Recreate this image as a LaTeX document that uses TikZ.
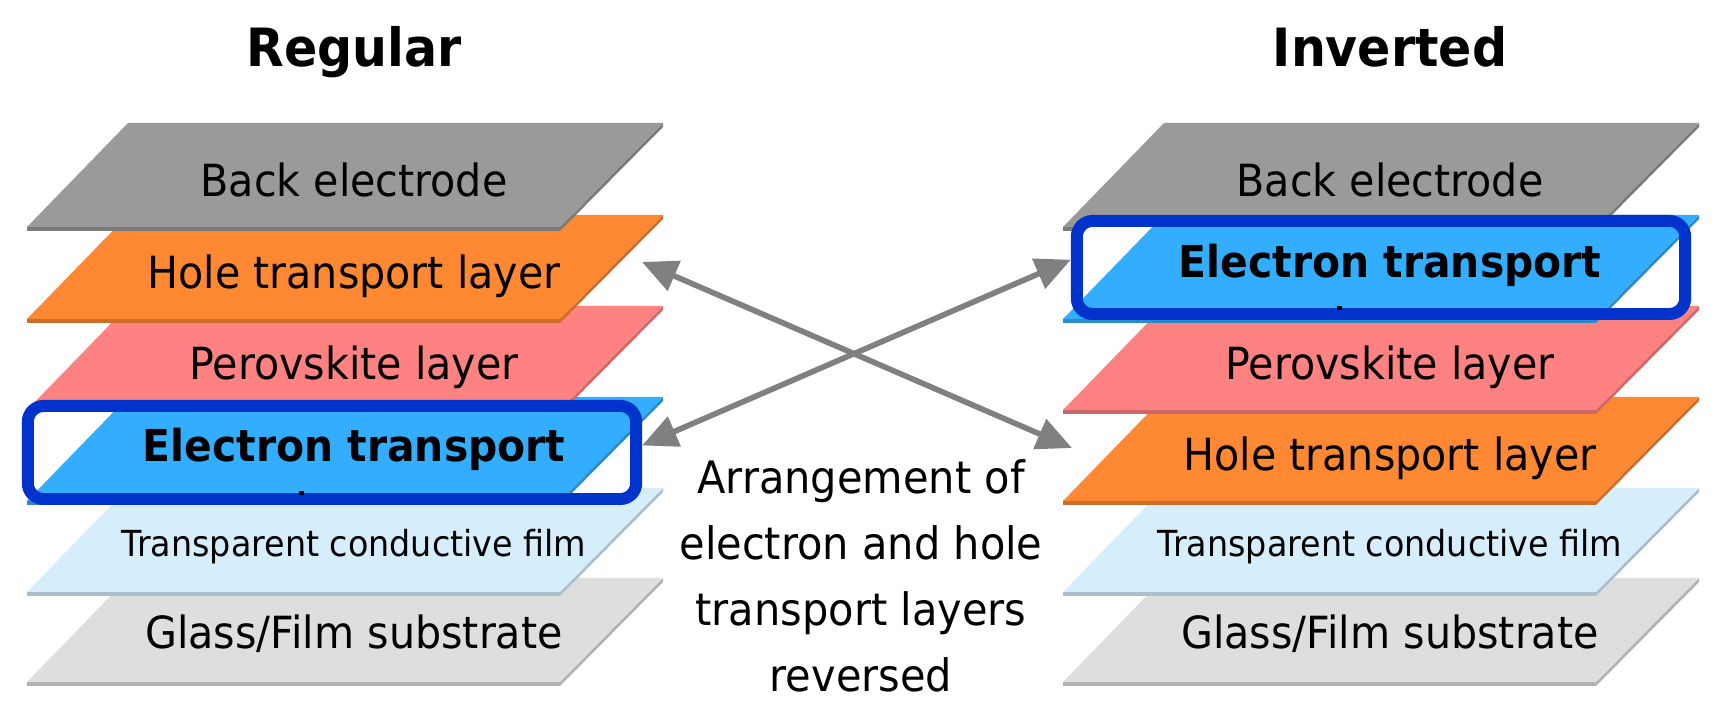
\documentclass[tikz,border=0pt]{standalone}
\usepackage{fontspec}
\setmainfont{DejaVu Sans}[FakeStretch=0.93]
\usetikzlibrary{arrows.meta}

\definecolor{back}{HTML}{9A9A9A}
\definecolor{htl}{HTML}{FF8833}
\definecolor{pero}{HTML}{FF8282}
\definecolor{etl}{HTML}{33AEFF}
\definecolor{tcf}{HTML}{D6EEFC}
\definecolor{glass}{HTML}{DEDEDE}
\definecolor{boxblue}{HTML}{0033CC}
\definecolor{arrowgray}{HTML}{808080}

\begin{document}
\begin{tikzpicture}[
  x=0.01cm, y=-0.01cm,
  slab/.pic={
    \fill[fill=#1!80!black] (560,104) -- (663,0) -- (663,4) -- (560,108) -- (27,108) -- (27,104) -- cycle;
    \fill[fill=#1] (27,104) -- (128,0) -- (663,0) -- (560,104) -- cycle;
  },
  lbl/.style={font=\fontsize{12.6}{15}\selectfont, anchor=base, inner sep=0pt},
  etltxt/.style={lbl, font=\fontsize{12.5}{15}\selectfont\bfseries},
  tcftxt/.style={lbl, font=\fontsize{10.2}{12}\selectfont},
  title/.style={font=\fontsize{15}{18}\selectfont\bfseries, anchor=base, inner sep=0pt},
  hlbox/.style={draw=boxblue, line width=3.4pt, rounded corners=4.5pt, minimum width=6.08cm, minimum height=0.93cm, inner sep=0pt},
  conn/.style={draw=arrowgray, line width=1.6pt, arrows={Triangle[length=10pt,width=9pt]-Triangle[length=10pt,width=9pt]}},
]
  \useasboundingbox (0,0) rectangle (1720,725);

  % stacks, bottom layer first
  \foreach \y/\f in {578/glass, 488/tcf, 397/etl, 306/pero, 215/htl, 123/back}
    \pic at (0,\y) {slab=\f};
  \foreach \y/\f in {578/glass, 488/tcf, 397/htl, 306/pero, 215/etl, 123/back}
    \pic at (1036,\y) {slab=\f};

  % highlighted electron transport layers
  \begin{scope}
    \clip[rounded corners=4.5pt] (28,406) rectangle (636,499);
    \fill[white] (0,380) rectangle (700,520);
    \pic at (0,397) {slab=etl};
  \end{scope}
  \node[hlbox] (etlL) at (332,452.5) {};
  \fill (299,491) rectangle (304,495);

  \begin{scope}
    \clip[rounded corners=4.5pt] (1077,221) rectangle (1685,314);
    \fill[white] (1040,200) rectangle (1720,340);
    \pic at (1036,215) {slab=etl};
  \end{scope}
  \node[hlbox] (etlR) at (1381,267.5) {};
  \fill (1337,306) rectangle (1342,310);

  \node[title] (regular) at (354,67) {Regular};
  \node[title] (inverted) at (1390,67) {Inverted};

  \node[lbl] (backL) at (354,197) {Back electrode};
  \node[lbl] (htlL) at (354,289) {Hole transport layer};
  \node[lbl] (peroL) at (354,380) {Perovskite layer};
  \node[etltxt] (etlLtxt) at (354,462) {Electron transport};
  \node[tcftxt] (tcfL) at (354,557) {Transparent conductive film};
  \node[lbl] (glassL) at (354,649) {Glass/Film substrate};

  \node[lbl] (backR) at (1390,197) {Back electrode};
  \node[etltxt] (etlRtxt) at (1390,278) {Electron transport};
  \node[lbl] (peroR) at (1390,380) {Perovskite layer};
  \node[lbl] (htlR) at (1390,471) {Hole transport layer};
  \node[tcftxt] (tcfR) at (1390,557) {Transparent conductive film};
  \node[lbl] (glassR) at (1390,649) {Glass/Film substrate};

  \node[font=\fontsize{12.7}{18.8}\selectfont, align=center] (note) at (861,576)
    {Arrangement of\\electron and hole\\transport layers\\reversed};

  \coordinate (htlLend) at (642,262);
  \coordinate (htlRend) at (1072,448);
  \draw[conn] (htlLend) -- (htlRend);
  \draw[conn] ([yshift=2pt]etlL.east) -- ([yshift=2.2pt]etlR.west);
\end{tikzpicture}
\end{document}
